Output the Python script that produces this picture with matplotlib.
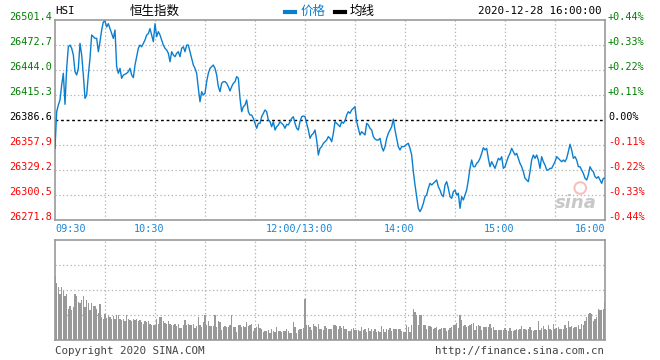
import matplotlib
matplotlib.use("Agg")
import matplotlib.pyplot as plt
import matplotlib.transforms as mtransforms
import numpy as np

# ---------------------------------------------------------
# Data (one value per minute)
# ---------------------------------------------------------
prev_close = 26386.6
price_levels = [26271.8, 26300.5, 26329.2, 26357.9, 26386.6,
                26415.3, 26444.0, 26472.7, 26501.4]

time_ticks = [0, 60, 150, 210, 270, 330]
time_labels = ['09:30', '10:30', '12:00/13:00', '14:00', '15:00', '16:00']

price = [
    26354.1, 26396.1, 26403.8, 26409.6, 26426.6, 26440.2, 26404.6, 26445.9, 26470.7, 26472.6,
    26468.9, 26461.2, 26442.1, 26438.3, 26445.9, 26474.6, 26461.2, 26438.3, 26411.5, 26415.3,
    26438.3, 26457.4, 26484.2, 26482.3, 26480.3, 26480.3, 26465.0, 26476.5, 26489.9, 26499.2,
    26500.0, 26493.4, 26497.2, 26491.5, 26485.8, 26480.3, 26489.9, 26447.9, 26440.2, 26445.9,
    26434.5, 26438.3, 26439.1, 26440.2, 26442.1, 26445.9, 26438.3, 26435.2, 26449.7, 26459.3,
    26468.9, 26472.6, 26470.7, 26474.6, 26478.4, 26484.2, 26485.8, 26491.5, 26484.2, 26476.5,
    26497.2, 26482.3, 26488.0, 26484.2, 26478.4, 26472.6, 26468.9, 26467.0, 26463.2, 26453.5,
    26465.0, 26461.2, 26459.3, 26463.2, 26465.0, 26459.3, 26468.9, 26470.7, 26465.0, 26472.6,
    26472.6, 26465.0, 26457.4, 26449.7, 26445.9, 26440.2, 26423.0, 26407.6, 26419.1, 26415.3,
    26417.2, 26430.6, 26440.2, 26445.9, 26447.9, 26449.7, 26445.9, 26438.3, 26424.9, 26419.1,
    26428.7, 26430.6, 26430.6, 26428.7, 26424.9, 26419.9, 26424.9, 26428.7, 26430.6, 26436.4,
    26434.5, 26411.5, 26396.1, 26401.9, 26403.8, 26409.6, 26396.1, 26392.3, 26392.3, 26388.5,
    26382.8, 26377.1, 26382.8, 26382.8, 26390.4, 26394.3, 26398.1, 26396.1, 26386.6, 26384.7,
    26378.9, 26384.7, 26375.1, 26378.9, 26380.9, 26384.7, 26382.8, 26380.9, 26377.1, 26381.6,
    26380.9, 26384.7, 26388.5, 26390.4, 26382.8, 26377.1, 26375.1, 26384.7, 26390.4, 26391.2,
    26390.4, 26382.8, 26375.1, 26365.6, 26369.4, 26371.3, 26375.1, 26363.6, 26346.4, 26354.1,
    26356.0, 26359.8, 26361.7, 26363.6, 26367.5, 26365.6, 26361.7, 26371.3, 26384.7, 26382.8,
    26380.9, 26378.9, 26384.7, 26382.8, 26385.6, 26392.3, 26396.1, 26394.3, 26398.1, 26400.0,
    26401.9, 26384.7, 26377.1, 26369.4, 26373.2, 26371.3, 26369.4, 26382.8, 26380.9, 26377.1,
    26375.1, 26367.5, 26364.8, 26363.6, 26363.6, 26365.6, 26356.0, 26351.0, 26356.0, 26365.6,
    26371.3, 26375.1, 26378.9, 26387.7, 26375.1, 26365.6, 26356.0, 26352.2, 26356.0, 26356.0,
    26356.6, 26358.7, 26359.8, 26354.1, 26346.4, 26327.3, 26312.0, 26298.6, 26285.2, 26281.4,
    26285.2, 26290.9, 26298.6, 26300.6, 26308.2, 26313.9, 26312.0, 26313.9, 26315.8, 26317.7,
    26310.0, 26306.2, 26300.6, 26298.6, 26312.0, 26315.8, 26308.2, 26298.6, 26296.7, 26304.3,
    26306.2, 26300.6, 26302.5, 26285.2, 26298.6, 26294.8, 26300.6, 26306.2, 26317.7, 26331.1,
    26340.7, 26333.0, 26333.0, 26336.8, 26338.7, 26342.6, 26348.3, 26354.8, 26352.2, 26354.1,
    26342.6, 26333.0, 26338.7, 26334.9, 26331.1, 26336.8, 26342.6, 26340.7, 26344.5, 26331.1,
    26333.0, 26338.7, 26344.5, 26348.3, 26354.1, 26350.2, 26346.4, 26348.3, 26342.6, 26336.8,
    26333.0, 26327.3, 26319.7, 26317.7, 26315.8, 26327.3, 26340.7, 26346.4, 26342.6, 26346.4,
    26340.7, 26331.1, 26344.5, 26338.7, 26334.9, 26329.2, 26329.2, 26331.1, 26331.1, 26334.9,
    26338.7, 26344.5, 26342.6, 26340.7, 26338.7, 26340.7, 26338.7, 26342.6, 26350.2, 26358.7,
    26352.2, 26342.6, 26344.5, 26340.7, 26333.0, 26333.0, 26329.2, 26325.4, 26319.7, 26317.7,
    26323.5, 26333.0, 26329.2, 26327.3, 26321.6, 26319.7, 26321.6, 26317.7, 26313.9, 26319.7,
    26319.7,
]

volume = [
    # 09:30 - 10:00
    64, 57, 53, 46, 53, 49, 44, 46, 31, 34, 30, 33, 46, 44, 38, 37, 40, 44, 33, 40,
    37, 30, 37, 34, 34, 31, 27, 36, 23, 21,
    # 10:00 - 10:30
    26, 22, 24, 23, 21, 24, 21, 25, 25, 21, 20, 21, 19, 25, 21, 20, 19, 21, 20, 21,
    19, 20, 18, 16, 19, 18, 19, 16, 15, 15,
    # 10:30 - 11:00
    15, 21, 16, 23, 23, 19, 17, 16, 19, 16, 15, 15, 16, 14, 16, 12, 12, 15, 20, 15,
    16, 15, 15, 16, 12, 14, 23, 15, 13, 18,
    # 11:00 - 11:30
    25, 15, 19, 14, 14, 14, 25, 13, 19, 18, 10, 13, 14, 13, 13, 15, 25, 13, 13, 8,
    15, 15, 13, 14, 13, 18, 14, 15, 16, 9,
    # 11:30 - 12:00
    12, 13, 16, 12, 11, 8, 9, 9, 10, 7, 11, 9, 8, 13, 9, 9, 8, 9, 9, 11,
    9, 7, 7, 18, 13, 7, 10, 11, 11, 12,
    # 13:00
    41,
    # 13:00 - 13:30
    15, 15, 13, 10, 16, 14, 13, 16, 11, 11, 10, 14, 12, 11, 11, 11, 15, 15, 14, 11,
    14, 12, 14, 11, 11, 9, 9, 11, 12, 10,
    # 13:30 - 14:00
    10, 10, 9, 13, 10, 11, 8, 12, 9, 11, 9, 11, 8, 9, 8, 14, 11, 8, 11, 10,
    12, 9, 11, 11, 11, 11, 11, 9, 8, 8,
    # 14:00 - 14:30
    15, 13, 8, 15, 31, 28, 25, 15, 25, 25, 15, 15, 11, 14, 14, 13, 11, 12, 13, 10,
    11, 12, 12, 12, 9, 10, 12, 13, 15, 15,
    # 14:30 - 15:00
    17, 12, 25, 20, 14, 15, 13, 14, 15, 16, 17, 10, 14, 15, 14, 10, 13, 13, 13, 13,
    16, 12, 13, 10, 10, 10, 10, 10, 10, 12,
    # 15:00 - 15:30
    10, 9, 12, 9, 9, 10, 11, 10, 11, 14, 11, 11, 10, 11, 13, 10, 9, 10, 10, 19,
    10, 12, 14, 11, 10, 15, 11, 10, 16, 11,
    # 15:30 - 16:00
    12, 13, 11, 11, 11, 15, 12, 19, 13, 14, 12, 13, 13, 15, 11, 16, 15, 19, 23, 26,
    27, 26, 19, 21, 23, 31, 30, 30, 31, 38,
]

# ---------------------------------------------------------
# Styles
# ---------------------------------------------------------
mono = 'DejaVu Sans Mono'
cjk = ['Noto Sans CJK SC', 'DejaVu Sans']
line_blue = '#0b7fcf'
label_blue = '#1a86d6'
frame_gray = '#999999'
grid_gray = '#b0b0b0'
up_green = '#008000'
down_red = '#ff0000'
dots = (0, (1, 2))

minutes = np.arange(len(price))
n_min = len(price) - 1

fig = plt.figure(figsize=(6.6, 3.6), dpi=100)
ax = fig.add_axes([55 / 660, 1 - 220 / 360, 550 / 660, 200 / 360])
axv = fig.add_axes([55 / 660, 1 - 340 / 360, 550 / 660, 100 / 360])

for a in (ax, axv):
    a.set_xlim(0, n_min)
    for s in a.spines.values():
        s.set_color(frame_gray)
        s.set_linewidth(1.2)
    a.set_xticks([])
    a.set_yticks([])
    for m in range(30, n_min, 30):
        a.axvline(m, color=grid_gray, lw=0.9, ls=dots, zorder=0)

# ---------------------------------------------------------
# Price panel
# ---------------------------------------------------------
ax.set_ylim(price_levels[0], price_levels[-1])
for lv in price_levels[1:-1]:
    if lv == prev_close:
        ax.axhline(lv, color='black', lw=1.0, ls=(0, (2, 2)), zorder=1)
    else:
        ax.axhline(lv, color=grid_gray, lw=0.9, ls=dots, zorder=0)

ax.plot(minutes, price, color=line_blue, lw=1.0, zorder=3)

left_tr = mtransforms.blended_transform_factory(fig.transFigure, ax.transData)
for lv in price_levels:
    pct = (lv - prev_close) / prev_close * 100
    if abs(lv - prev_close) < 0.05:
        col = 'black'
        pct_txt = '0.00%'
    else:
        col = up_green if lv > prev_close else down_red
        pct_txt = f'{pct:+.2f}%'
    fig.text(52 / 660, lv, f'{lv:.1f}', transform=left_tr, ha='right', va='baseline',
             fontsize=7.3, family=mono, color=col)
    fig.text(608 / 660, lv, pct_txt, transform=left_tr, ha='left', va='baseline',
             fontsize=7.3, family=mono, color=col)

# time labels (sit slightly left of the grid line)
shift = mtransforms.ScaledTranslation(-6 / 100, 0, fig.dpi_scale_trans)
bot_tr = mtransforms.blended_transform_factory(ax.transData, fig.transFigure)
for m, lab in zip(time_ticks, time_labels):
    if m == 0:
        ha, tr = 'left', bot_tr
    elif m == n_min:
        ha, tr = 'right', bot_tr
    else:
        ha, tr = 'center', bot_tr + shift
    fig.text(m, 1 - 232 / 360, lab, transform=tr, ha=ha, va='baseline',
             fontsize=7.3, family=mono, color=label_blue)

# watermark
ax.text(0.985, 0.06, 'sina', transform=ax.transAxes, ha='right', va='baseline',
        fontsize=13, style='italic', weight='bold', color='#c8c8c8', zorder=2)
ax.scatter([0.955], [0.16], s=70, transform=ax.transAxes, facecolor='none',
           edgecolor='#f6c0c0', lw=1.5, zorder=2)

# ---------------------------------------------------------
# Volume panel
# ---------------------------------------------------------
axv.set_ylim(0, 100)
for lv in (25, 50, 75):
    axv.axhline(lv, color=grid_gray, lw=0.9, ls=dots, zorder=0)
axv.bar(minutes, volume, width=0.65, color='#999999', zorder=2, linewidth=0,
        antialiased=False)

# ---------------------------------------------------------
# Header / footer
# ---------------------------------------------------------
fig.text(55 / 660, 1 - 14 / 360, 'HSI', fontsize=7.8, family=mono, color='black')
fig.text(130 / 660, 1 - 15 / 360, '恒生指数', fontsize=9, family=cjk, color='black')
fig.lines.append(plt.Line2D([285 / 660, 295 / 660], [1 - 12 / 360] * 2,
                            transform=fig.transFigure, color=line_blue, lw=3))
fig.text(301 / 660, 1 - 15 / 360, '价格', fontsize=9, family=cjk, color=line_blue)
fig.lines.append(plt.Line2D([335 / 660, 345 / 660], [1 - 12 / 360] * 2,
                            transform=fig.transFigure, color='black', lw=3))
fig.text(350 / 660, 1 - 15 / 360, '均线', fontsize=9, family=cjk, color='black')
fig.text(602 / 660, 1 - 14 / 360, '2020-12-28 16:00:00', ha='right', fontsize=7.8,
         family=mono, color='black')

fig.text(55 / 660, 1 - 354 / 360, 'Copyright 2020 SINA.COM', fontsize=7.8,
         family=mono, color='#444444')
fig.text(604 / 660, 1 - 354 / 360, 'http://finance.sina.com.cn', ha='right',
         fontsize=7.8, family=mono, color='#444444')

fig.savefig('out.png', dpi=100, facecolor='white')
